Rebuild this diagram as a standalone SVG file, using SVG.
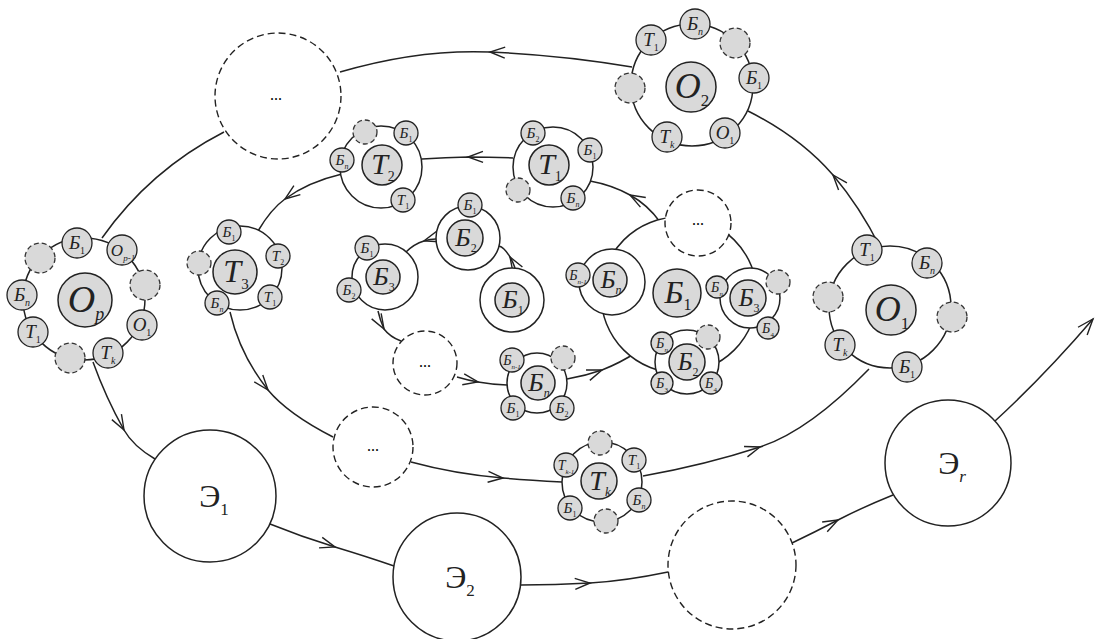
<svg xmlns="http://www.w3.org/2000/svg" width="1096" height="639" viewBox="0 0 1096 639">
<defs>
<style>
.e{fill:none;stroke:#222;stroke-width:1.5}
.m{marker-mid:url(#ah)}
.ring{fill:#fff;stroke:#222;stroke-width:1.5}
.dring{fill:#fff;stroke:#222;stroke-width:1.4;stroke-dasharray:7 4}
.core{fill:#d9d9d9;stroke:#222;stroke-width:1.5}
.sat{fill:#d9d9d9;stroke:#222;stroke-width:1.3}
.dsat{fill:#d9d9d9;stroke:#333;stroke-width:1.3;stroke-dasharray:5 3}
text{font-family:'Liberation Serif','DejaVu Serif','Times New Roman',serif;fill:#222;text-anchor:middle}
.lb{font-style:italic}
.up{font-style:normal}
.n{font-style:normal}
.dots{font-size:16px;fill:#000}
</style>
<marker id="ah" markerUnits="userSpaceOnUse" orient="auto" markerWidth="30" markerHeight="30" viewBox="-15 -15 30 30" refX="0" refY="0" overflow="visible">
<path d="M-15 -5.5 L0 0 L-15 5.5" fill="none" stroke="#222" stroke-width="1.4"/>
</marker>
<marker id="ahe" markerUnits="userSpaceOnUse" orient="auto" markerWidth="30" markerHeight="30" viewBox="-15 -15 30 30" refX="0" refY="0" overflow="visible">
<path d="M-16 -6 L0 0 L-16 6" fill="none" stroke="#222" stroke-width="1.4"/>
</marker>
</defs>
<rect width="1096" height="639" fill="#fff"/>

<g id="connectors">
<path class="e m" d="M880 247 Q860 207 833 175 Q800 137 748 111"/>
<path class="e m" d="M632 67 Q562 55 490 52 Q418 49 340 72"/>
<path class="e" d="M224 132 Q150 170 102 238"/>
<path class="e m" d="M93 362 Q106 398 124 430 Q133 446 155 459"/>
<path class="e m" d="M270 524 Q302 537 335 547 Q368 557 394 566"/>
<path class="e m" d="M521 585 Q555 585 590 583 Q625 581 668 572"/>
<path class="e m" d="M792 543 Q815 532 838 520 Q861 508 893 495"/>
<path class="e" d="M995 421 Q1045 375 1093 319" marker-end="url(#ahe)"/>
<path class="e m" d="M513 158 Q490 157 468 157 Q446 157.5 422 159"/>
<path class="e m" d="M342 174 Q308 182 285 199 Q271 209 258 231"/>
<path class="e m" d="M230 312 Q240 355 268 390 Q288 414 333 437"/>
<path class="e m" d="M411 462 Q455 474 503 478 Q527 480 562 482"/>
<path class="e m" d="M643 476 Q705 465 760 447 Q809 431 869 369"/>
<path class="e m" d="M660 222 Q648 205 630 195 Q612 185 590 181"/>
<path class="e m" d="M515 268 Q513 262 510 257 Q504 247 499 246"/>
<path class="e m" d="M436 239 Q430 239 424 241 Q414 244 406 252"/>
<path class="e m" d="M378 311 Q380 320 384 329 Q390 337 401 341"/>
<path class="e m" d="M457 377 Q467 380 478 382 Q492 384.5 507 385"/>
<path class="e m" d="M567 379 Q585 376 602 370 Q620 363 637 352"/>
</g>

<g id="node-O2">
<circle class="ring" cx="692" cy="85" r="61"/>
<circle class="core" cx="691" cy="87" r="25"/>
<text class="lb" x="692" y="98" font-size="36">O<tspan class="n" font-size="17" dy="8">2</tspan></text>
<circle class="sat" cx="651" cy="40" r="15"/><text class="lb" x="651" y="46" font-size="19">T<tspan class="n" font-size="10" dy="5">1</tspan></text>
<circle class="sat" cx="695" cy="24" r="15"/><text class="lb" x="695" y="30" font-size="19">Б<tspan font-size="10" dy="5">n</tspan></text>
<circle class="dsat" cx="735" cy="43" r="15"/>
<circle class="sat" cx="754" cy="78" r="15"/><text class="lb" x="754" y="84" font-size="19">Б<tspan class="n" font-size="10" dy="5">1</tspan></text>
<circle class="sat" cx="725" cy="133" r="15"/><text class="lb" x="725" y="139" font-size="19">O<tspan class="n" font-size="10" dy="5">1</tspan></text>
<circle class="sat" cx="667" cy="137" r="15"/><text class="lb" x="667" y="143" font-size="19">T<tspan font-size="10" dy="5">k</tspan></text>
<circle class="dsat" cx="630" cy="88" r="15"/>
</g>

<g id="node-dots-top">
<circle class="dring" cx="278" cy="96" r="63"/>
<text class="dots" x="276" y="100">...</text>
</g>

<g id="node-Op">
<circle class="ring" cx="84" cy="299" r="61"/>
<circle class="core" cx="85" cy="300" r="27"/>
<text class="lb" x="86" y="312" font-size="38">O<tspan font-size="18" dy="8">p</tspan></text>
<circle class="sat" cx="77" cy="243" r="15"/><text class="lb" x="77" y="249" font-size="19">Б<tspan class="n" font-size="10" dy="5">1</tspan></text>
<circle class="sat" cx="122" cy="250" r="15"/><text class="lb" x="123" y="256" font-size="17">O<tspan font-size="9" dy="5">p-1</tspan></text>
<circle class="dsat" cx="145" cy="285" r="15"/>
<circle class="sat" cx="142" cy="325" r="15"/><text class="lb" x="142" y="331" font-size="19">O<tspan class="n" font-size="10" dy="5">1</tspan></text>
<circle class="sat" cx="108" cy="353" r="15"/><text class="lb" x="108" y="359" font-size="19">T<tspan font-size="10" dy="5">k</tspan></text>
<circle class="dsat" cx="70" cy="358" r="15"/>
<circle class="sat" cx="33" cy="332" r="15"/><text class="lb" x="33" y="338" font-size="19">T<tspan class="n" font-size="10" dy="5">1</tspan></text>
<circle class="sat" cx="22" cy="295" r="15"/><text class="lb" x="22" y="301" font-size="19">Б<tspan font-size="10" dy="5">n</tspan></text>
<circle class="dsat" cx="40" cy="258" r="15"/>
</g>

<g id="node-O1">
<circle class="ring" cx="890" cy="307" r="61"/>
<circle class="core" cx="891" cy="310" r="25"/>
<text class="lb" x="892" y="321" font-size="36">O<tspan class="n" font-size="17" dy="8">1</tspan></text>
<circle class="sat" cx="867" cy="250" r="15"/><text class="lb" x="867" y="256" font-size="19">T<tspan class="n" font-size="10" dy="5">1</tspan></text>
<circle class="sat" cx="927" cy="263" r="15"/><text class="lb" x="927" y="269" font-size="19">Б<tspan font-size="10" dy="5">n</tspan></text>
<circle class="dsat" cx="952" cy="317" r="15"/>
<circle class="sat" cx="907" cy="367" r="15"/><text class="lb" x="907" y="373" font-size="19">Б<tspan class="n" font-size="10" dy="5">1</tspan></text>
<circle class="sat" cx="840" cy="345" r="15"/><text class="lb" x="840" y="351" font-size="19">T<tspan font-size="10" dy="5">k</tspan></text>
<circle class="dsat" cx="828" cy="297" r="15"/>
</g>

<g id="node-T2">
<circle class="ring" cx="381" cy="167" r="41"/>
<circle class="core" cx="382" cy="165" r="20"/>
<text class="lb" x="383" y="174" font-size="30">T<tspan class="n" font-size="14" dy="7">2</tspan></text>
<circle class="dsat" cx="365" cy="132" r="12"/>
<circle class="sat" cx="406" cy="133" r="12"/><text class="lb" x="406" y="138" font-size="15">Б<tspan class="n" font-size="8" dy="4">1</tspan></text>
<circle class="sat" cx="342" cy="160" r="12"/><text class="lb" x="342" y="165" font-size="15">Б<tspan font-size="8" dy="4">n</tspan></text>
<circle class="sat" cx="403" cy="200" r="12"/><text class="lb" x="403" y="205" font-size="15">T<tspan class="n" font-size="8" dy="4">1</tspan></text>
</g>

<g id="node-T1">
<circle class="ring" cx="553" cy="167" r="40"/>
<circle class="core" cx="549" cy="165" r="20"/>
<text class="lb" x="550" y="174" font-size="30">T<tspan class="n" font-size="14" dy="7">1</tspan></text>
<circle class="sat" cx="533" cy="133" r="12"/><text class="lb" x="533" y="138" font-size="15">Б<tspan class="n" font-size="8" dy="4">2</tspan></text>
<circle class="sat" cx="590" cy="150" r="12"/><text class="lb" x="590" y="155" font-size="15">Б<tspan class="n" font-size="8" dy="4">1</tspan></text>
<circle class="sat" cx="573" cy="198" r="12"/><text class="lb" x="573" y="203" font-size="15">Б<tspan font-size="8" dy="4">n</tspan></text>
<circle class="dsat" cx="518" cy="190" r="12"/>
</g>

<g id="node-T3">
<circle class="ring" cx="240" cy="268" r="42"/>
<circle class="core" cx="235" cy="272" r="22"/>
<text class="lb" x="236" y="282" font-size="32">T<tspan class="n" font-size="15" dy="7">3</tspan></text>
<circle class="sat" cx="229" cy="232" r="12"/><text class="lb" x="229" y="237" font-size="15">Б<tspan class="n" font-size="8" dy="4">1</tspan></text>
<circle class="sat" cx="278" cy="256" r="12"/><text class="lb" x="278" y="261" font-size="15">T<tspan class="n" font-size="8" dy="4">2</tspan></text>
<circle class="sat" cx="270" cy="297" r="12"/><text class="lb" x="270" y="302" font-size="15">T<tspan class="n" font-size="8" dy="4">1</tspan></text>
<circle class="sat" cx="217" cy="303" r="12"/><text class="lb" x="217" y="308" font-size="15">Б<tspan font-size="8" dy="4">n</tspan></text>
<circle class="dsat" cx="199" cy="263" r="12"/>
</g>

<g id="node-Tk">
<circle class="ring" cx="602" cy="482" r="40"/>
<circle class="core" cx="599" cy="481" r="18"/>
<text class="lb" x="600" y="490" font-size="28">T<tspan font-size="13" dy="6">k</tspan></text>
<circle class="sat" cx="566" cy="465" r="12"/><text class="lb" x="566" y="470" font-size="14">T<tspan font-size="7" dy="4">k-1</tspan></text>
<circle class="sat" cx="634" cy="460" r="12"/><text class="lb" x="634" y="465" font-size="15">T<tspan class="n" font-size="8" dy="4">1</tspan></text>
<circle class="sat" cx="639" cy="500" r="12"/><text class="lb" x="639" y="505" font-size="15">Б<tspan font-size="8" dy="4">n</tspan></text>
<circle class="sat" cx="570" cy="508" r="12"/><text class="lb" x="570" y="513" font-size="15">Б<tspan class="n" font-size="8" dy="4">1</tspan></text>
<circle class="dsat" cx="600" cy="443" r="12"/>
<circle class="dsat" cx="606" cy="521" r="12"/>
</g>

<g id="node-dots-mid">
<circle class="dring" cx="373" cy="447" r="40"/>
<text class="dots" x="373" y="451">...</text>
</g>

<g id="node-B2">
<circle class="ring" cx="468" cy="238" r="32"/>
<circle class="core" cx="465" cy="238" r="18"/>
<text class="lb" x="466" y="246" font-size="26">Б<tspan class="n" font-size="12" dy="6">2</tspan></text>
<circle class="sat" cx="470" cy="205" r="12"/><text class="lb" x="470" y="210" font-size="15">Б<tspan class="n" font-size="8" dy="4">1</tspan></text>
</g>

<g id="node-B3">
<circle class="ring" cx="385" cy="277" r="33"/>
<circle class="core" cx="383" cy="277" r="17"/>
<text class="lb" x="384" y="285" font-size="26">Б<tspan class="n" font-size="12" dy="6">3</tspan></text>
<circle class="sat" cx="367" cy="248" r="12"/><text class="lb" x="367" y="253" font-size="15">Б<tspan class="n" font-size="8" dy="4">1</tspan></text>
<circle class="sat" cx="349" cy="290" r="12"/><text class="lb" x="349" y="295" font-size="15">Б<tspan class="n" font-size="8" dy="4">2</tspan></text>
</g>

<g id="node-B1">
<circle class="ring" cx="512" cy="300" r="32"/>
<circle class="core" cx="512" cy="300" r="17"/>
<text class="lb" x="513" y="308" font-size="26">Б<tspan class="n" font-size="12" dy="6">1</tspan></text>
</g>

<g id="node-dots-inner">
<circle class="dring" cx="425" cy="363" r="32"/>
<text class="dots" x="425" y="367">...</text>
</g>

<g id="node-Bn">
<circle class="ring" cx="537" cy="383" r="30"/>
<circle class="core" cx="538" cy="383" r="17"/>
<text class="lb" x="539" y="391" font-size="26">Б<tspan font-size="12" dy="6">n</tspan></text>
<circle class="sat" cx="512" cy="360" r="12"/><text class="lb" x="512" y="365" font-size="14">Б<tspan font-size="7" dy="4">n-1</tspan></text>
<circle class="dsat" cx="563" cy="358" r="12"/>
<circle class="sat" cx="513" cy="408" r="12"/><text class="lb" x="513" y="413" font-size="15">Б<tspan class="n" font-size="8" dy="4">1</tspan></text>
<circle class="sat" cx="562" cy="408" r="12"/><text class="lb" x="562" y="413" font-size="15">Б<tspan class="n" font-size="8" dy="4">2</tspan></text>
</g>

<g id="node-B1-big">
<circle class="ring" cx="679" cy="295" r="78"/>
<circle class="core" cx="677" cy="293" r="24"/>
<text class="lb" x="678" y="303" font-size="32">Б<tspan class="n" font-size="16" dy="7">1</tspan></text>
<circle class="dring" cx="698" cy="223" r="33"/>
<text class="dots" x="698" y="225">...</text>
<circle class="ring" cx="612" cy="282" r="33"/>
<circle class="core" cx="610" cy="280" r="17"/>
<text class="lb" x="611" y="288" font-size="25">Б<tspan font-size="12" dy="6">n</tspan></text>
<circle class="sat" cx="578" cy="275" r="12"/><text class="lb" x="578" y="280" font-size="14">Б<tspan font-size="7" dy="4">n-1</tspan></text>
<circle class="ring" cx="750" cy="298" r="30"/>
<circle class="core" cx="748" cy="298" r="18"/>
<text class="lb" x="749" y="306" font-size="25">Б<tspan class="n" font-size="12" dy="6">3</tspan></text>
<circle class="sat" cx="717" cy="287" r="11"/><text class="lb" x="717" y="292" font-size="14">Б<tspan font-size="7" dy="4">n</tspan></text>
<circle class="dsat" cx="778" cy="282" r="12"/>
<circle class="sat" cx="768" cy="328" r="11"/><text class="lb" x="768" y="333" font-size="14">Б<tspan class="n" font-size="7" dy="4">4</tspan></text>
<circle class="ring" cx="687" cy="362" r="32"/>
<circle class="core" cx="687" cy="362" r="18"/>
<text class="lb" x="688" y="370" font-size="25">Б<tspan class="n" font-size="12" dy="6">2</tspan></text>
<circle class="sat" cx="662" cy="343" r="11"/><text class="lb" x="662" y="348" font-size="14">Б<tspan font-size="7" dy="4">n</tspan></text>
<circle class="dsat" cx="708" cy="337" r="12"/>
<circle class="sat" cx="662" cy="383" r="11"/><text class="lb" x="662" y="388" font-size="14">Б<tspan class="n" font-size="7" dy="4">3</tspan></text>
<circle class="sat" cx="711" cy="383" r="11"/><text class="lb" x="711" y="388" font-size="14">Б<tspan class="n" font-size="7" dy="4">4</tspan></text>
</g>

<g id="node-E1">
<circle class="ring" cx="210" cy="496" r="66"/>
<text class="up" x="214" y="507" font-size="32">Э<tspan font-size="17" dy="8">1</tspan></text>
</g>

<g id="node-E2">
<circle class="ring" cx="457" cy="577" r="64"/>
<text class="up" x="460" y="588" font-size="32">Э<tspan font-size="17" dy="8">2</tspan></text>
</g>

<g id="node-blank">
<circle class="dring" cx="732" cy="565" r="64" stroke-dasharray="12 3"/>
</g>

<g id="node-Er">
<circle class="ring" cx="948" cy="463" r="63"/>
<text class="up" x="952" y="474" font-size="32">Э<tspan font-style="italic" font-size="17" dy="8">r</tspan></text>
</g>
</svg>
